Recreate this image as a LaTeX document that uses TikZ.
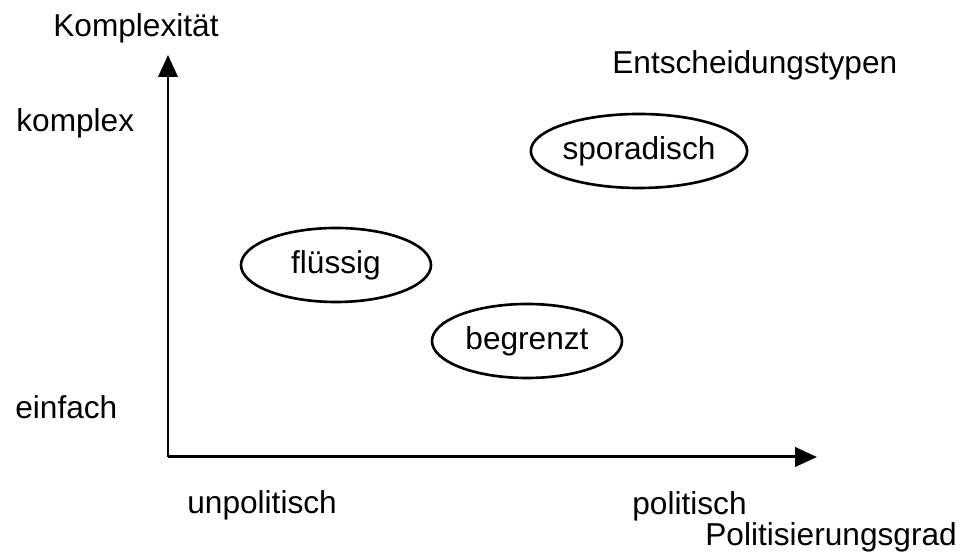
\documentclass[tikz,border=0pt]{standalone}
\usepackage{fontspec}
\setmainfont{Liberation Sans}
\usepackage{tikz}
\usetikzlibrary{arrows.meta, shapes.geometric}

\begin{document}
\begin{tikzpicture}[
    every node/.style={font=\fontsize{18}{21.6}\selectfont, inner sep=0pt},
    achse/.style={line width=1.7pt, -{Triangle[length=12.5pt, width=11pt]}},
    typ/.style={draw, ellipse, line width=1.5pt, minimum width=3.8cm, minimum height=1.48cm},
    beschriftung/.style={anchor=base west}
  ]
    \useasboundingbox (0,0) rectangle (19.24,11.18);
    % Axes
    \coordinate (ursprung) at (3.36,2.04);
    \coordinate (yspitze) at (3.36,10.08);
    \coordinate (xspitze) at (16.34,2.04);
    \draw[achse] (ursprung) -- (yspitze);
    \draw[achse] (ursprung) -- (xspitze);
    % Axis labels
    \node[beschriftung] (komplexitaet) at (1.06,10.44) {Komplexität};
    \node[beschriftung] (komplex) at (0.32,8.54) {komplex};
    \node[beschriftung] (einfach) at (0.30,2.80) {einfach};
    \node[beschriftung] (unpolitisch) at (3.74,0.90) {unpolitisch};
    \node[beschriftung] (politisch) at (12.64,0.88) {politisch};
    \node[beschriftung] (grad) at (14.10,0.26) {Politisierungsgrad};
    \node[beschriftung] (typen) at (12.24,9.70) {Entscheidungstypen};
    % Decision types
    \node[typ] (sporadisch) at (12.78,8.16) {sporadisch};
    \node[typ] (fluessig) at (6.72,5.88) {flüssig};
    \node[typ] (begrenzt) at (10.54,4.36) {begrenzt};
\end{tikzpicture}
\end{document}
